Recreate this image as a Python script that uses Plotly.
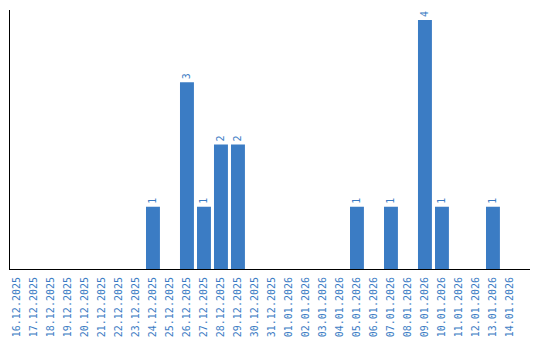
import plotly.graph_objects as go

dates = ["16.12.2025", "17.12.2025", "18.12.2025", "19.12.2025", "20.12.2025",
         "21.12.2025", "22.12.2025", "23.12.2025", "24.12.2025", "25.12.2025",
         "26.12.2025", "27.12.2025", "28.12.2025", "29.12.2025", "30.12.2025",
         "31.12.2025", "01.01.2026", "02.01.2026", "03.01.2026", "04.01.2026",
         "05.01.2026", "06.01.2026", "07.01.2026", "08.01.2026", "09.01.2026",
         "10.01.2026", "11.01.2026", "12.01.2026", "13.01.2026", "14.01.2026"]
counts = [0, 0, 0, 0, 0, 0, 0, 0, 1, 0,
          3, 1, 2, 2, 0, 0, 0, 0, 0, 0,
          1, 0, 1, 0, 4, 1, 0, 0, 1, 0]

labels = [str(v) if v > 0 else "" for v in counts]

blue = "#3b7cc4"
mono = "DejaVu Sans Mono"
fig = go.Figure(go.Bar(
    x=dates, y=counts, text=labels, textposition="outside", textangle=-90,
    textfont=dict(color=blue, size=10, family=mono),
    marker=dict(color=blue, line=dict(width=0)), width=0.82, cliponaxis=False,
))
fig.update_layout(
    width=540, height=340, margin=dict(l=10, r=10, t=10, b=71),
    paper_bgcolor="white", plot_bgcolor="white", showlegend=False,
    font=dict(family=mono, size=10, color=blue),
)
fig.update_xaxes(type="category", range=[-0.41, 30.18], tickangle=-90,
                 automargin=False,
                 showline=True, linecolor="black", linewidth=1, showgrid=False,
                 ticks="outside", ticklen=3, tickcolor="rgba(0,0,0,0)",
                 tickfont=dict(color=blue, size=10, family=mono))
fig.update_yaxes(range=[0, 4.16], showline=True, linecolor="black", linewidth=1,
                 automargin=False,
                 showgrid=False, zeroline=False, showticklabels=False, ticks="")
fig.write_html("out.html")
